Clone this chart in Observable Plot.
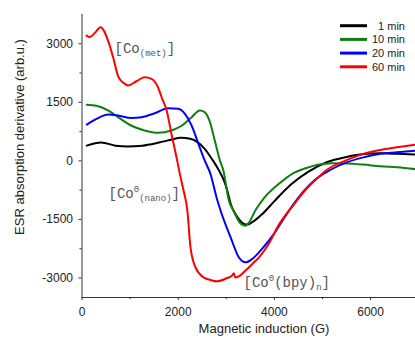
<!DOCTYPE html>
<html>
<head>
<meta charset="utf-8">
<script src="https://cdn.jsdelivr.net/npm/d3@7"></script>
<script src="https://cdn.jsdelivr.net/npm/@observablehq/plot@0.6"></script>
<style>
  html, body { margin: 0; padding: 0; background: #fff; }
  svg { display: block; }
</style>
</head>
<body>
<div id="chart"></div>
<script>
// ---- data ----
const seriesNames = ["1 min", "10 min", "20 min", "60 min"];
const seriesColors = ["#000000", "#0f7f0f", "#0000ff", "#ff0000"];

const field1 = [100, 400, 700, 950, 1250, 1600, 1850, 2050, 2250, 2400, 2550, 2700, 2850, 2950, 3020, 3090, 3230, 3370, 3430, 3540, 3750, 4000, 4350, 4700, 5100, 5500, 5850, 6200, 6550, 6950];
const esr1   = [390, 470, 390, 370, 390, 470, 540, 590, 565, 480, 310, 50, -250, -500, -760, -1100, -1440, -1615, -1630, -1570, -1360, -1030, -600, -280, -30, 100, 175, 195, 180, 160];

const field10 = [100, 300, 550, 750, 1030, 1300, 1580, 1860, 2070, 2280, 2450, 2550, 2650, 2760, 2870, 2940, 3050, 3150, 3300, 3400, 3470, 3600, 3800, 4100, 4370, 4650, 4900, 5200, 5500, 5850, 6200, 6550, 6950];
const esr10   = [1440, 1415, 1290, 1120, 900, 780, 720, 780, 900, 1120, 1290, 1250, 1030, 520, 0, -250, -1000, -1280, -1610, -1660, -1580, -1280, -930, -580, -330, -190, -100, -60, -65, -95, -140, -165, -215];

const field20 = [100, 300, 550, 750, 1030, 1240, 1510, 1790, 2000, 2140, 2280, 2420, 2550, 2670, 2800, 2880, 3090, 3260, 3400, 3540, 3710, 3990, 4130, 4350, 4650, 4850, 5150, 5500, 5850, 6200, 6550, 6950];
const esr20   = [930, 1075, 1185, 1160, 1100, 1120, 1220, 1350, 1335, 1205, 905, 436, 10, -330, -950, -1270, -1960, -2470, -2600, -2510, -2300, -1870, -1600, -1190, -720, -480, -240, -40, 90, 180, 220, 265];

const field60 = [95, 160, 270, 385, 545, 650, 750, 860, 960, 1130, 1300, 1445, 1585, 1655, 1760, 1860, 1965, 2020, 2100, 2190, 2255, 2360, 2525, 2670, 2810, 3020, 3120, 3155, 3190, 3260, 3400, 3540, 3680, 3880, 4100, 4370, 4650, 4850, 5100, 5500, 5850, 6200, 6550, 6950];
const esr60   = [3210, 3170, 3280, 3425, 3070, 2640, 2170, 2000, 1930, 2040, 2140, 2100, 1870, 1630, 1290, 690, 90, -250, -700, -1270, -2210, -2730, -2985, -3050, -3085, -3000, -2940, -2880, -2990, -2960, -2810, -2640, -2470, -2130, -1620, -1170, -740, -490, -220, 20, 180, 280, 350, 420];

const xTicks = [0, 2000, 4000, 6000];
const xMinorTicks = [1000, 3000, 5000];
const yTicks = [-3000, -1500, 0, 1500, 3000];
const yMinorTicks = [-2250, -750, 750, 2250];

const annText = ["[Co(met)]", "[Co0(nano)]", "[Co0(bpy)n]"];
const annParts = [
  [["[Co", ""], ["(met)", "sub"], ["]", ""]],
  [["[Co", ""], ["0", "sup"], ["(nano)", "sub"], ["]", ""]],
  [["[Co", ""], ["0", "sup"], ["(bpy)", ""], ["n", "sub"], ["]", ""]]
];
const annField = [676, 551, 3358];
const annEsr = [2751, -941, -3223];

const xLabel = "Magnetic induction (G)";
const yLabel = "ESR absorption derivative (arb.u.)";

// ---- build table ----
const fields = [field1, field10, field20, field60];
const values = [esr1, esr10, esr20, esr60];
const rows = [];
seriesNames.forEach((s, i) => fields[i].forEach((f, j) => rows.push({series: s, field: f, esr: values[i][j]})));
const ann = annText.map((t, i) => ({text: t, field: annField[i], esr: annEsr[i], parts: annParts[i]}));

const fmt = d => `${d}`;

const plot = Plot.plot({
  width: 415,
  height: 340,
  marginLeft: 81.5,
  marginRight: 0,
  marginTop: 14,
  marginBottom: 43,
  style: {fontFamily: "'Liberation Sans', Arial, sans-serif", fontSize: "12px", background: "#fff", color: "#222"},
  x: {domain: [0, 6933]},
  y: {domain: [-3500, 3750]},
  color: {domain: seriesNames, range: seriesColors},
  marks: [
    Plot.line(rows, {x: "field", y: "esr", z: "series", stroke: "series", strokeWidth: 2, curve: "monotone-x", clip: true}),
    Plot.text(ann, {x: "field", y: "esr", text: "text", textAnchor: "start", lineAnchor: "bottom",
      fontFamily: "'Liberation Mono', 'Courier New', monospace", fontSize: 14, fill: "#555"}),
    Plot.ruleX([0], {stroke: "#333", strokeWidth: 1}),
    Plot.ruleY([-3500], {stroke: "#333", strokeWidth: 1}),
    Plot.axisY({ticks: yTicks, tickSize: 3, tickPadding: 6, tickFormat: fmt, label: null, fontSize: 12, stroke: "#333"}),
    Plot.axisY({ticks: yMinorTicks, tickSize: 2, tickFormat: () => "", label: null, stroke: "#333"}),
    Plot.axisX({ticks: xTicks, tickSize: 3, tickPadding: 7, tickFormat: fmt, label: null, fontSize: 12, stroke: "#333"}),
    Plot.axisX({ticks: xMinorTicks, tickSize: 2, tickFormat: () => "", label: null, stroke: "#333"})
  ]
});

const svg = d3.select(plot);

// rich text for annotations (sub/superscripts)
svg.selectAll("text").each(function() {
  const idx = annText.indexOf(this.textContent);
  if (idx < 0 || this.querySelector("tspan")) return;
  const el = d3.select(this);
  el.text(null);
  let shift = 0;
  annParts[idx].forEach(([t, kind]) => {
    const target = kind === "sub" ? 3 : kind === "sup" ? -6 : 0;
    const ts = el.append("tspan").text(t).attr("dy", target - shift);
    if (kind) ts.style("font-size", "9px");
    shift = target;
  });
});

// axis titles
svg.append("text")
  .attr("transform", "translate(24,137) rotate(-90)")
  .attr("text-anchor", "middle")
  .attr("font-size", 13)
  .attr("fill", "#222")
  .text(yLabel);
svg.append("text")
  .attr("x", 264).attr("y", 333)
  .attr("text-anchor", "middle")
  .attr("font-size", 13)
  .attr("fill", "#222")
  .text(xLabel);

// legend (inside the plot frame, top right)
const lg = svg.append("g").attr("font-size", 11).attr("fill", "#222");
seriesNames.forEach((s, i) => {
  const cy = 25.7 + i * 13.7;
  lg.append("line").attr("x1", 340).attr("x2", 367).attr("y1", cy).attr("y2", cy)
    .attr("stroke", seriesColors[i]).attr("stroke-width", 3);
  lg.append("text").attr("x", 405).attr("y", cy + 4).attr("text-anchor", "end").text(s);
});

document.getElementById("chart").appendChild(plot);
</script>
</body>
</html>
